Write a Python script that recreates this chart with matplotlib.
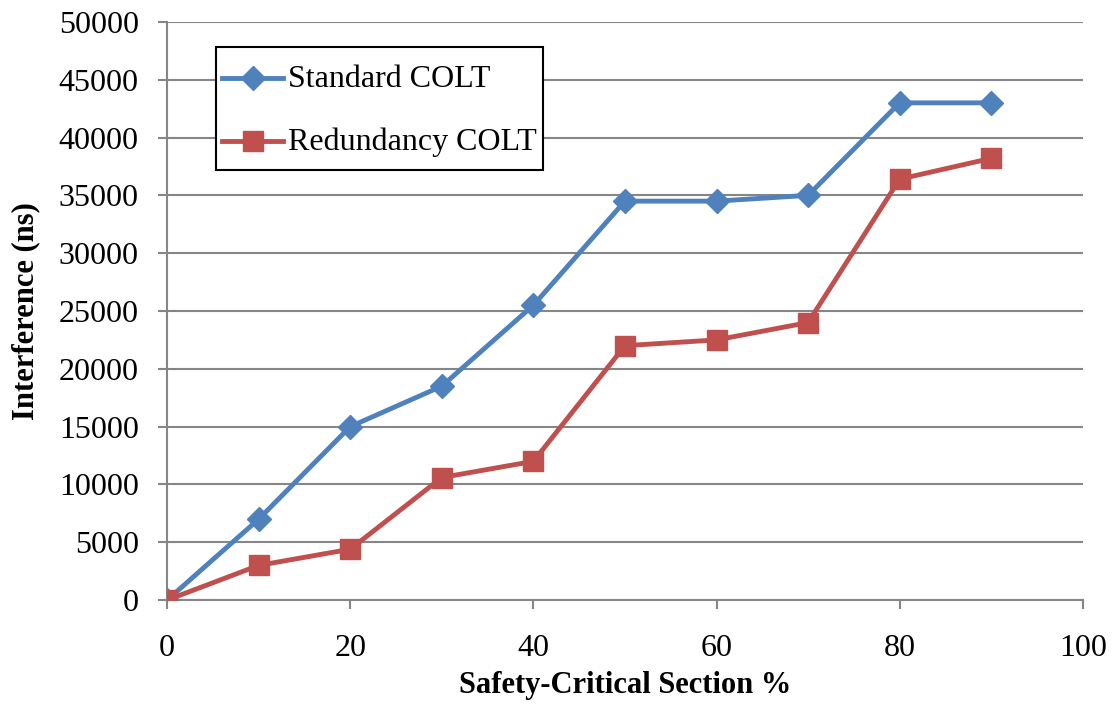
import matplotlib
matplotlib.use('Agg')
import matplotlib.pyplot as plt
import numpy as np
from matplotlib.legend_handler import HandlerLine2D

plt.rcParams['font.family'] = ['Liberation Serif', 'DejaVu Serif']

section = [0, 10, 20, 30, 40, 50, 60, 70, 80, 90]
standard = [0, 7000, 15000, 18500, 25500, 34500, 34500, 35000, 43000, 43000]
redundancy = [0, 3000, 4400, 10600, 12000, 22000, 22500, 24000, 36400, 38200]

fig = plt.figure(figsize=(11.14, 7.06), dpi=100)
ax = fig.add_axes([0.15, 0.15, 0.822, 0.819])

l1, = ax.plot(section, standard, color='#4F81BD', lw=3.5, marker='D', ms=12,
              label='Standard COLT', zorder=3)
l2, = ax.plot(section, redundancy, color='#C0504D', lw=3.5, marker='s', ms=14,
              label='Redundancy COLT', zorder=4)

ax.set_xlim(0, 100)
ax.set_ylim(0, 50000)
ax.set_xticks(range(0, 101, 20))
ax.set_yticks(range(0, 50001, 5000))

ax.grid(axis='y', color='#868686', lw=1.5)
ax.set_axisbelow(True)
for s in ['top', 'right']:
    ax.spines[s].set_visible(False)
for s in ['left', 'bottom']:
    ax.spines[s].set_color('#868686')
    ax.spines[s].set_linewidth(1.5)
ax.tick_params(axis='both', labelsize=23, color='#868686', width=1.5, length=6.5)
ax.tick_params(axis='x', pad=18)
ax.tick_params(axis='y', pad=14)

ax.set_xlabel('Safety-Critical Section %', fontsize=22, fontweight='bold', labelpad=6)
ax.set_ylabel('Interference (ns)', fontsize=22, fontweight='bold', labelpad=13)


# legend handles sit a bit lower so they line up with the text
def lower(h, orig):
    h.update_from(orig)
    h.set_ydata(np.asarray(h.get_ydata()) - 5.5)


hm = {l1: HandlerLine2D(update_func=lower), l2: HandlerLine2D(update_func=lower)}
leg = ax.legend(handler_map=hm, loc='upper left', bbox_to_anchor=(0.0535, 0.957),
                borderaxespad=0, fontsize=23, fancybox=False, framealpha=1,
                edgecolor='black', handlelength=1.9, handleheight=1.9,
                handletextpad=0.15, labelspacing=0.5, borderpad=0.2)
leg.get_frame().set_linewidth(1.5)

fig.savefig('out.png', dpi=100)
